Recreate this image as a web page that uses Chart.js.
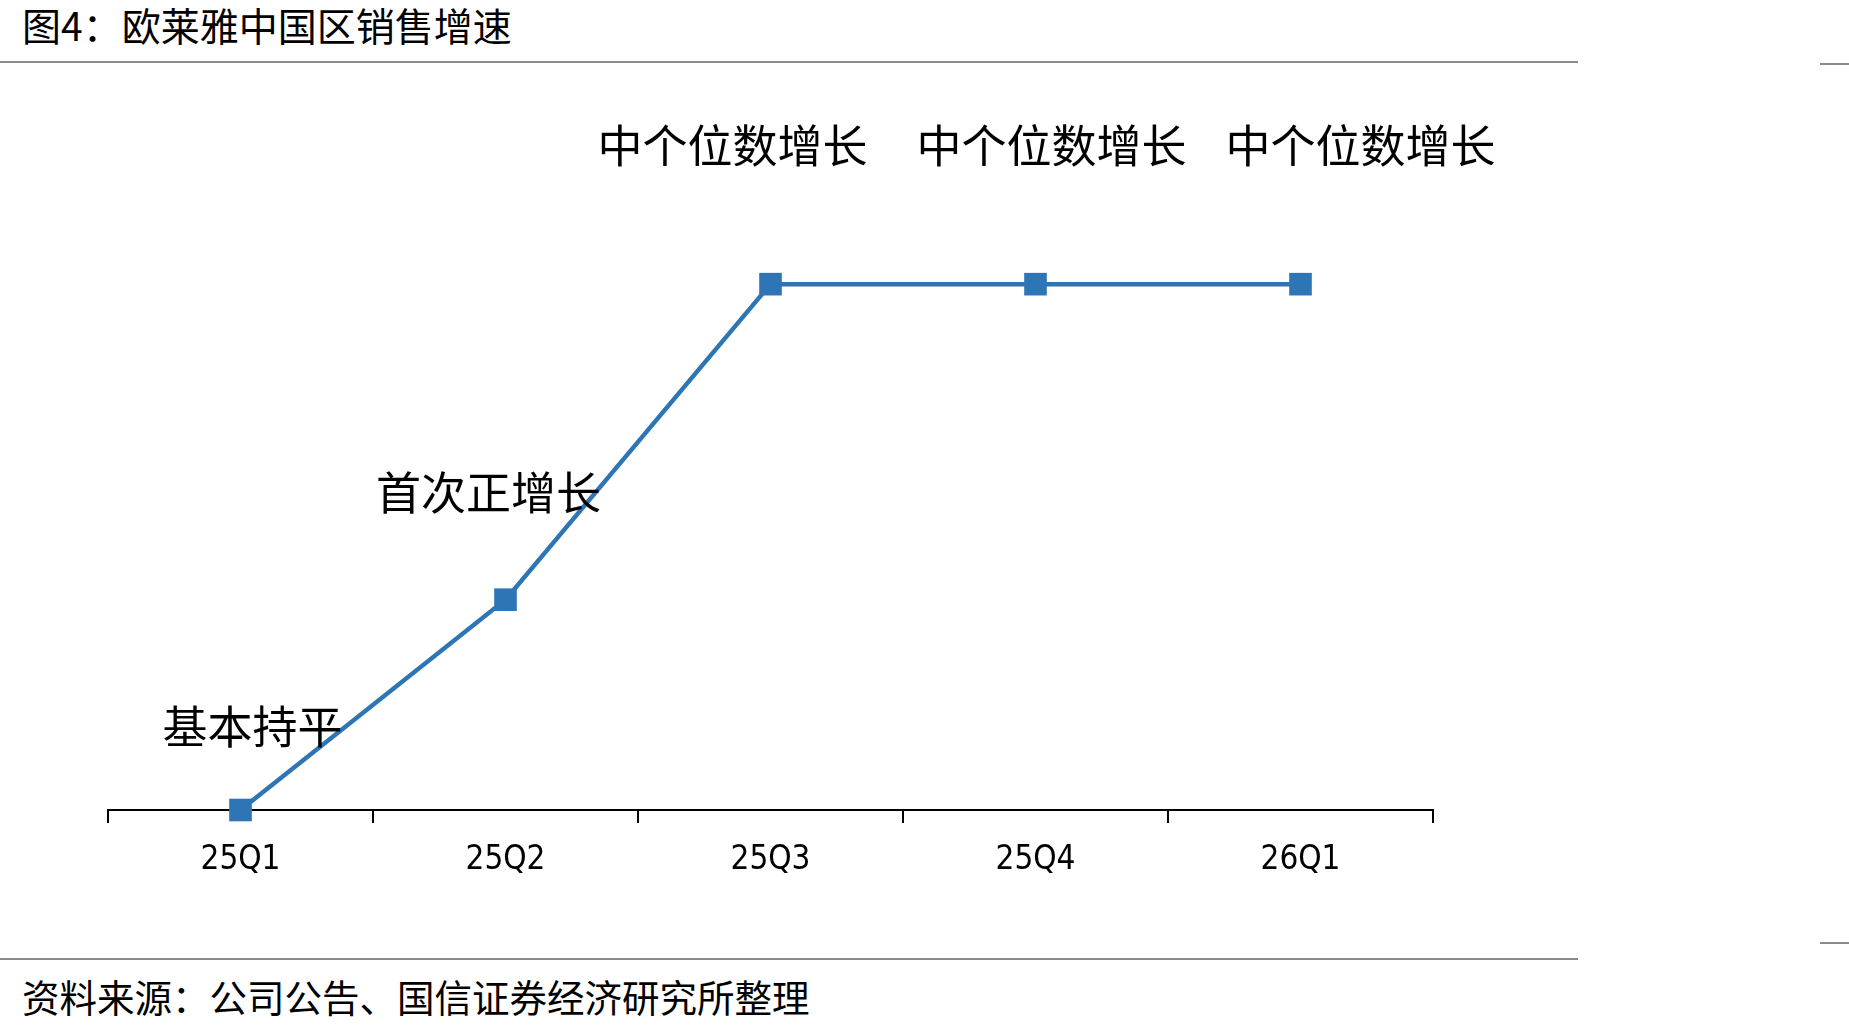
<html>
  <head>
    <meta charset="utf-8">
    <title>欧莱雅中国区销售增速</title>
    <style>
      body {
        margin: 0;
        width: 1849px;
        height: 1031px;
        position: relative;
        background: #fff;
        font-family: "Noto Sans CJK SC", sans-serif;
        color: #000;
        overflow: hidden;
      }
      .title, .source {
        position: absolute;
        left: 22px;
        line-height: 48px;
        white-space: nowrap;
      }
      .title { top: 0px; font-size: 39px; }
      .source { top: 972px; font-size: 37.5px; }
      .rule {
        position: absolute;
        height: 2px;
        background: #8a8a8a;
      }
      canvas {
        position: absolute;
        left: 0;
        top: 0;
      }
    </style>
  </head>
  <body>
    <div class="title">图4：欧莱雅中国区销售增速</div>
    <div class="rule" style="left:0;top:61px;width:1578px"></div>
    <div class="rule" style="left:1820px;top:63px;width:29px"></div>
    <div class="rule" style="left:0;top:958px;width:1578px"></div>
    <div class="rule" style="left:1820px;top:942px;width:29px"></div>
    <div class="source">资料来源：公司公告、国信证券经济研究所整理</div>
    <canvas id="growthChart" width="1849" height="1031"></canvas>

    <script src="https://cdn.jsdelivr.net/npm/chart.js@4/dist/chart.umd.min.js"></script>
    <script>
      // quarters and the (approximate) growth level shown for each
      const quarters = ['25Q1', '25Q2', '25Q3', '25Q4', '26Q1'];
      const growthLevel = [0, 2, 5, 5, 5];
      const growthNotes = ['基本持平', '首次正增长', '中个位数增长', '中个位数增长', '中个位数增长'];

      // where each note sits relative to its point (px)
      const noteOffsets = [[12, -83], [-17, -107], [-38, -138], [16, -138], [60, -138]];

      const lineBlue = '#2E75B6';

      const notePlugin = {
        id: 'notes',
        afterDatasetsDraw(chart) {
          const meta = chart.getDatasetMeta(0);
          const ctx = chart.ctx;
          ctx.save();
          ctx.font = '45px "Noto Sans CJK SC"';
          ctx.fillStyle = '#000';
          ctx.textAlign = 'center';
          ctx.textBaseline = 'middle';
          meta.data.forEach((pt, i) => {
            const off = noteOffsets[i];
            ctx.fillText(growthNotes[i], pt.x + off[0], pt.y + off[1]);
          });
          ctx.restore();
        }
      };

      new Chart(document.getElementById('growthChart'), {
        type: 'line',
        data: {
          labels: quarters,
          datasets: [{
            data: growthLevel,
            borderColor: lineBlue,
            backgroundColor: lineBlue,
            borderWidth: 4.5,
            pointStyle: 'rect',
            pointRadius: 16,
            pointBorderWidth: 0,
            tension: 0,
            clip: false
          }]
        },
        options: {
          responsive: false,
          devicePixelRatio: 1,
          animation: false,
          layout: {
            padding: { left: 108, right: 416, top: 179, bottom: 141 }
          },
          plugins: {
            legend: { display: false },
            tooltip: { enabled: false }
          },
          scales: {
            x: {
              offset: true,
              afterFit: s => { s.height = 80; },
              border: { display: true, color: '#000', width: 2 },
              grid: {
                offset: true,
                drawOnChartArea: false,
                drawTicks: true,
                tickLength: 13,
                color: '#000',
                lineWidth: 2
              },
              ticks: {
                color: '#000',
                padding: 18,
                maxRotation: 0,
                font: { family: '"Liberation Sans Narrow", "DejaVu Sans Condensed", "Noto Sans CJK SC"', size: 33 }
              }
            },
            y: {
              display: false,
              min: 0,
              max: 6
            }
          }
        },
        plugins: [notePlugin]
      });
    </script>
  </body>
</html>
